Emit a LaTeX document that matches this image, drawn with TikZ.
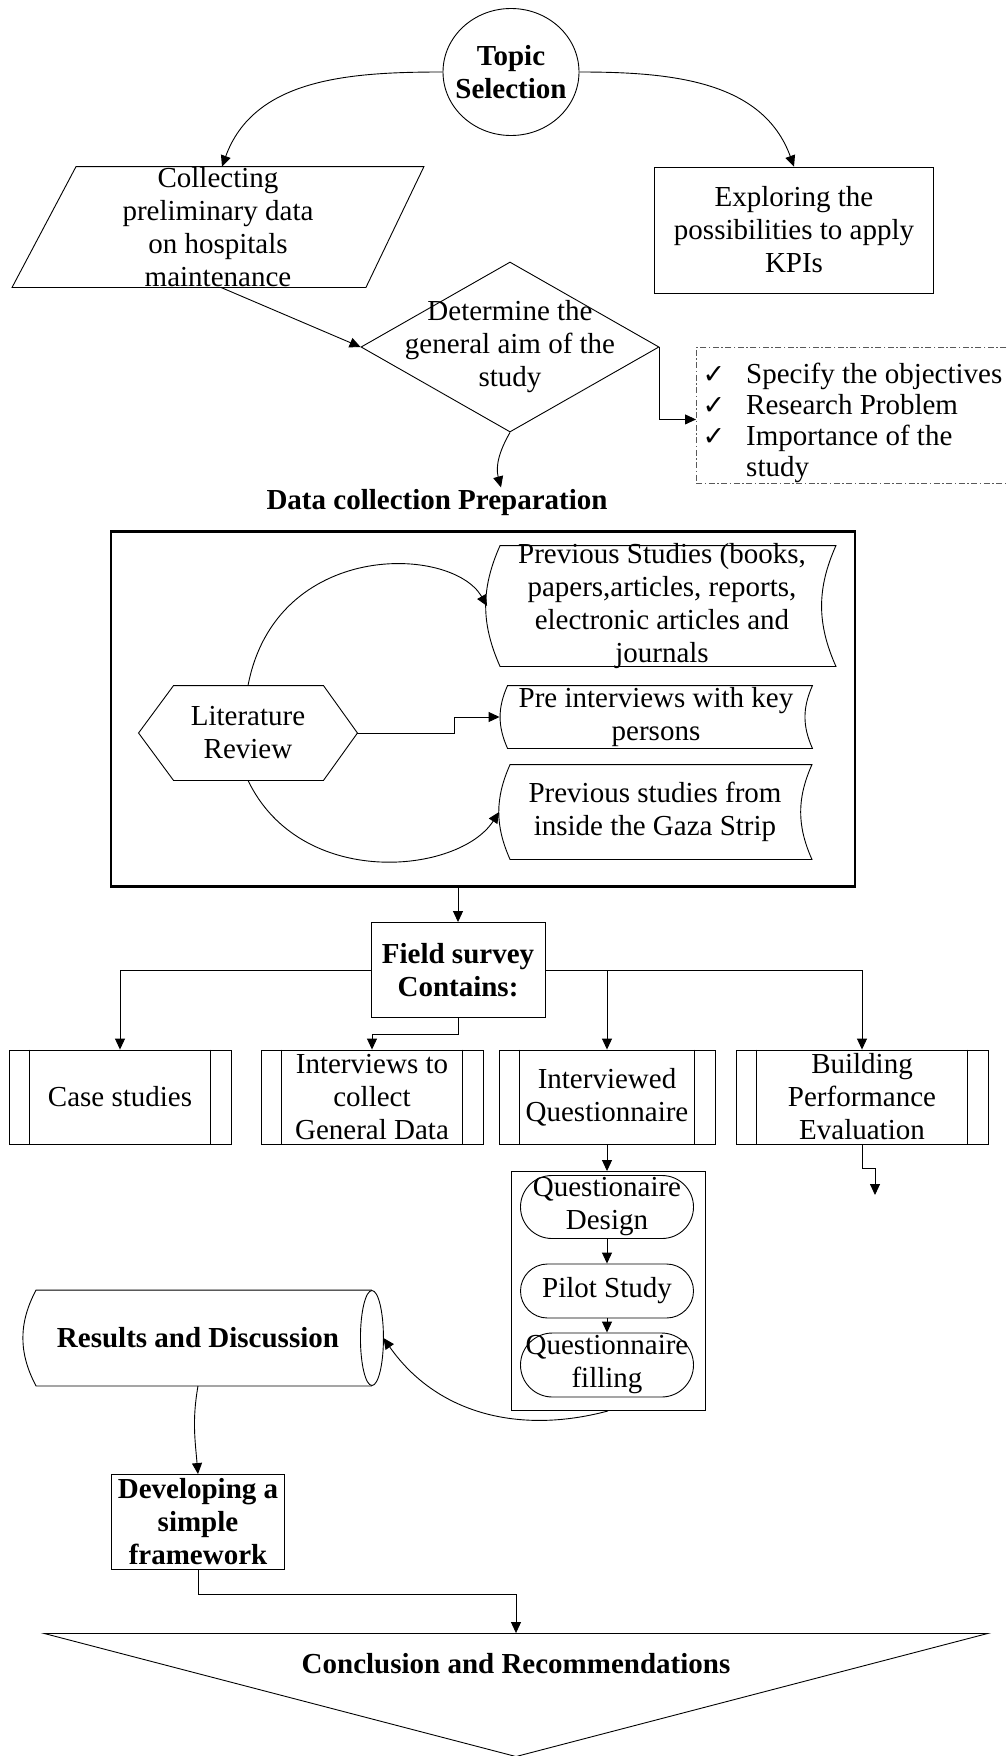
\documentclass[tikz,border=0pt]{standalone}
\usepackage{fontspec}
\setmainfont{Liberation Serif}
\newfontfamily\checkfont{DejaVu Sans}
\usetikzlibrary{arrows.meta, positioning, shapes.geometric, shapes.misc}

\newcommand{\bodysize}{\fontsize{29}{33}\selectfont}
\newcommand{\tick}{{\checkfont\fontsize{27}{33}\selectfont ✓}}

\tikzset{
  flow/.style={draw, line width=0.9pt, inner sep=0pt, align=center},
  arr/.style={-{Triangle[length=11pt,width=10pt]}, line width=0.9pt},
  txt/.style={align=center, inner sep=0pt},
  predef/.style={flow, rectangle, minimum height=94pt},
  term/.style={flow, rounded rectangle, minimum width=173pt},
  frame/.style={inner sep=0pt},
}

\begin{document}
\begin{tikzpicture}[x=1pt, y=-1pt, font=\bodysize, line width=0.9pt]
\useasboundingbox (0,0) rectangle (1008,1756);

% topic and first steps
\node[flow, ellipse, minimum width=136pt, minimum height=127pt,
      label={[txt, font=\bodysize\bfseries]center:Topic\\Selection}] (topic) at (511,72) {};
\node[frame, minimum width=411pt, minimum height=120pt,
      label={[txt]center:Collecting\\preliminary data\\on hospitals\\maintenance}] (coll) at (218,227) {};
\draw (coll.south west) -- ([xshift=64pt]coll.north west) -- (coll.north east)
      -- ([xshift=-58pt]coll.south east) -- cycle;
\node[flow, minimum width=279pt, minimum height=126pt] (expl) at (794,230)
  {Exploring the\\possibilities to apply\\KPIs};
\node[flow, diamond, minimum width=298pt, minimum height=170pt,
      label={[txt]center:Determine the\\general aim of the\\study}] (aim) at (510,347) {};
\node[draw=black!65, dash pattern=on 6pt off 2.5pt on 1.5pt off 2.5pt, anchor=north west,
      minimum width=312pt, minimum height=136pt, inner sep=0pt,
      label={[yshift=-8pt]center:\renewcommand\arraystretch{0.94}%
        \begin{tabular}{@{}l@{\hspace{21pt}}l@{}}
        \tick & Specify the objectives\\
        \tick & Research Problem\\
        \tick & Importance of the\\
        & study
        \end{tabular}}] (chk) at (696,347) {};
\node[txt, inner sep=2pt, font=\bodysize\bfseries] (dcp) at (437,503) {Data collection Preparation};

\draw[arr] (topic.west) to[out=180, in=70] ([xshift=4pt]coll.north);
\draw[arr] (topic.east) to[out=0, in=110] (expl.north);
\draw[arr] ([xshift=3pt]coll.south) -- (aim.west);
\draw[arr] (aim.east) |- ([yshift=-4pt]chk.west);
\draw[arr] (aim.south) to[out=240, in=105] ([xshift=64pt]dcp.north);

% literature review
\node[draw, line width=2.5pt, minimum width=744pt, minimum height=355pt] (litbox) at (483,709) {};
\node[frame, minimum width=218pt, minimum height=94pt,
      label={[txt]center:Literature\\Review}] (lit) at (248,733) {};
\draw (lit.west) -- ([xshift=35pt]lit.north west) -- ([xshift=-34pt]lit.north east) -- (lit.east)
      -- ([xshift=-34pt]lit.south east) -- ([xshift=35pt]lit.south west) -- cycle;
\node[frame, minimum width=335pt, minimum height=120pt,
      label={[txt, xshift=-6pt]center:Previous Studies (books,\\papers,articles, reports,\\electronic articles and\\journals}] (prev) at (668,606) {};
\node[frame, minimum width=304pt, minimum height=62pt,
      label={[txt, xshift=-4pt]center:Pre interviews with key\\persons}] (pre) at (660,717) {};
\node[frame, minimum width=301pt, minimum height=94pt,
      label={[txt, xshift=-6pt]center:Previous studies from\\inside the Gaza Strip}] (gaza) at (661,812) {};
\foreach \n in {prev, pre, gaza}
  \draw (\n.north west) to[bend right=24] (\n.south west) -- (\n.south east)
        to[bend left=24] (\n.north east) -- cycle;

\draw[arr] (lit.north) .. controls +(28,-146) and +(-35,-61) .. ([xshift=-13pt]prev.west);
\draw[arr] (lit.east) -- ++(97,0) |- ([xshift=-8pt]pre.west);
\draw[arr] (lit.south) .. controls +(53,110) and +(-40,62) .. ([xshift=-11pt]gaza.west);

% field survey
\node[flow, minimum width=174pt, minimum height=95pt, font=\bodysize\bfseries] (field) at (458,970)
  {Field survey\\Contains:};
\draw[arr] (field.north |- litbox.south) -- (field.north);

\node[predef, minimum width=222pt] (case) at (120,1097) {Case studies};
\node[predef, minimum width=222pt] (intv) at (372,1097) {Interviews to\\collect\\General Data};
\node[predef, minimum width=216pt] (iq) at (607,1097) {Interviewed\\Questionnaire};
\node[predef, minimum width=252pt] (build) at (862,1097) {Building\\Performance\\Evaluation};
\foreach \n in {case, intv, iq, build} {
  \draw ([xshift=21pt]\n.north west) -- ([xshift=21pt]\n.south west);
  \draw ([xshift=-21pt]\n.north east) -- ([xshift=-21pt]\n.south east);
}

\draw[arr] (field.west) -| (case.north);
\draw[arr] (field.south) -- ++(0,16) -| (intv.north);
\draw[arr] (field.east) -| (build.north);
\draw[arr] (field.east -| iq.north) -- (iq.north);
\coordinate (bpe) at (875,1195);
\draw[arr] (build.south) -- ++(0,24) -| (bpe);

% questionnaire steps
\node[flow, minimum width=194pt, minimum height=239pt] (qbox) at (608,1291) {};
\draw[arr] (iq.south) -- (iq.south |- qbox.north);
\node[term, minimum height=63pt, label={[txt]center:Questionaire\\Design}] (qd) at (607,1207) {};
\node[term, minimum height=54pt, label={[txt]center:Pilot Study}] (pilot) at (607,1291) {};
\node[term, minimum height=64pt, label={[txt]center:Questionnaire\\filling}] (qf) at (607,1365) {};
\draw[arr] (qd) -- (pilot);
\draw[arr] (pilot) -- (qf);

% results and conclusion
\node[frame, minimum width=335pt, minimum height=95pt,
      label={[txt, xshift=-6pt, font=\bodysize\bfseries]center:Results and Discussion}] (res) at (204,1338) {};
\draw (res.north east) -- (res.north west) to[bend right=28] (res.south west) -- (res.south east);
\draw (res.east) ellipse [x radius=11.5pt, y radius=47.5pt];
\draw[arr] (qbox.south) to[out=195, in=-55] ([xshift=11.5pt]res.east);

\node[flow, minimum width=173pt, minimum height=95pt, font=\bodysize\bfseries] (dev) at (198,1522)
  {Developing a\\simple\\framework};
\draw[arr] (res.south -| dev.north) to[out=-100, in=95] (dev.north);

\node[flow, isosceles triangle, isosceles triangle stretches, shape border rotate=-90,
      minimum width=943pt, minimum height=123pt] (conc) at (516,1694) {};
\node[txt, font=\bodysize\bfseries, below=20pt of conc.north] (conct) {Conclusion and Recommendations};
\draw[arr] (dev.south) -- ++(0,24) -| (conc.north);
\end{tikzpicture}
\end{document}
